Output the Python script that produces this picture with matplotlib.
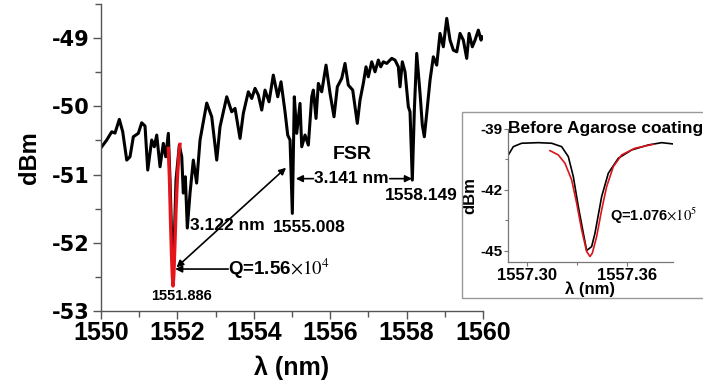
import numpy as np
import matplotlib
matplotlib.use('Agg')
import matplotlib.pyplot as plt
from matplotlib.patches import Rectangle
plt.rcParams['font.family'] = 'Liberation Sans'
plt.rcParams['mathtext.fontset'] = 'stix'
plt.rcParams['axes.unicode_minus'] = False

# main transmission spectrum
wl = [1550.018, 1550.149, 1550.280, 1550.366, 1550.479, 1550.568, 1550.673, 1550.759,
      1550.846, 1550.976, 1551.065, 1551.152, 1551.223, 1551.327, 1551.395, 1551.458,
      1551.545, 1551.631, 1551.694, 1551.762, 1551.806, 1551.885, 1551.963, 1552.050,
      1552.113, 1552.154, 1552.207, 1552.259, 1552.330, 1552.416, 1552.503, 1552.592,
      1552.767, 1552.898, 1553.029, 1553.115, 1553.291, 1553.421, 1553.508, 1553.639,
      1553.725, 1553.856, 1553.945, 1554.031, 1554.118, 1554.207, 1554.293, 1554.398,
      1554.510, 1554.626, 1554.712, 1554.817, 1554.887, 1554.948, 1555.008, 1555.060,
      1555.123, 1555.209, 1555.254, 1555.340, 1555.427, 1555.516, 1555.558, 1555.628,
      1555.689, 1555.777, 1555.890, 1555.995, 1556.099, 1556.186, 1556.301, 1556.387,
      1556.474, 1556.589, 1556.709, 1556.780, 1556.866, 1556.937, 1556.997, 1557.086,
      1557.173, 1557.259, 1557.322, 1557.390, 1557.479, 1557.610, 1557.696, 1557.783,
      1557.827, 1557.887, 1557.958, 1558.045, 1558.089, 1558.149, 1558.202, 1558.264,
      1558.351, 1558.411, 1558.463, 1558.526, 1558.613, 1558.699, 1558.788, 1558.874,
      1558.961, 1559.050, 1559.136, 1559.223, 1559.312, 1559.398, 1559.484, 1559.573,
      1559.634, 1559.720, 1559.791, 1559.877, 1559.948, 1559.982]
dbm = [-50.593, -50.494, -50.373, -50.392, -50.191, -50.373, -50.788, -50.739,
       -50.446, -50.396, -50.241, -50.289, -50.934, -50.494, -50.593, -50.421,
       -50.886, -50.543, -50.739, -50.396, -51.080, -52.580, -51.080, -50.568,
       -50.739, -51.271, -51.032, -51.784, -51.271, -50.788, -51.125, -50.494,
       -49.952, -50.153, -50.788, -50.300, -49.860, -50.080, -50.030, -50.470,
       -50.103, -49.787, -49.884, -49.737, -49.835, -50.055, -49.762, -49.933,
       -49.542, -49.860, -49.640, -50.080, -50.421, -50.494, -51.569, -49.860,
       -50.396, -49.957, -50.593, -50.421, -50.568, -49.860, -49.762, -50.177,
       -49.664, -49.787, -49.396, -49.810, -50.153, -49.714, -49.590, -49.371,
       -49.689, -49.762, -50.250, -49.908, -49.664, -49.421, -49.567, -49.347,
       -49.494, -49.322, -49.421, -49.347, -49.371, -49.297, -49.322, -49.421,
       -49.714, -49.347, -49.494, -50.007, -50.080, -51.081, -50.055, -49.224,
       -49.810, -50.275, -50.446, -50.103, -49.615, -49.274, -49.396, -48.931,
       -49.127, -48.711, -49.029, -49.176, -49.201, -48.931, -49.029, -49.297,
       -48.931, -49.127, -49.029, -48.883, -49.029, -48.981]

# fitted dip at 1551.886
fit_wl = [1551.762, 1551.793, 1551.819, 1551.846, 1551.866, 1551.885, 1551.906,
          1551.929, 1551.963, 1552.003, 1552.042, 1552.068]
fit_dbm = [-50.616, -51.081, -51.667, -52.179, -52.473, -52.634, -52.473,
           -52.106, -51.520, -51.007, -50.670, -50.557]

# inset: resonance before agarose coating
in_wl = [1557.2888, 1557.2918, 1557.2968, 1557.3068, 1557.3148, 1557.3208, 1557.3248,
         1557.3278, 1557.3308, 1557.3338, 1557.3358, 1557.3388, 1557.3408, 1557.3448,
         1557.3488, 1557.3548, 1557.3628, 1557.3728, 1557.3808, 1557.3878]
in_dbm = [-40.279, -39.871, -39.703, -39.674, -39.703, -39.871, -40.363,
          -41.346, -42.822, -44.130, -44.986, -44.790, -44.130, -42.330,
          -41.179, -40.441, -40.033, -39.787, -39.674, -39.738]
in_fit_wl = [1557.3138, 1557.3188, 1557.3228, 1557.3268, 1557.3298, 1557.3328,
             1557.3358, 1557.3378, 1557.3392, 1557.3418, 1557.3448, 1557.3478,
             1557.3518, 1557.3568, 1557.3648, 1557.3758]
in_fit_dbm = [-40.067, -40.279, -40.687, -41.509, -42.655, -43.968,
              -45.035, -45.281, -45.114, -44.298, -42.984, -41.838,
              -40.854, -40.279, -39.949, -39.753]

res = [1551.886, 1555.008, 1558.149]

fig = plt.figure(figsize=(7.03, 3.85), dpi=100)
ax = fig.add_axes([0.1437, 0.1922, 0.5434, 0.7974])
ax.plot(wl, dbm, color='black', lw=2.2, solid_joinstyle='round')
ax.plot(fit_wl, fit_dbm, color='#e8141c', lw=2.4)
ax.set_xlim(1550, 1560)
ax.set_ylim(-53, -48.5)
ax.set_xticks([1550, 1552, 1554, 1556, 1558, 1560])
ax.set_xticks(np.arange(1551, 1560, 2), minor=True)
ax.set_yticks([-53, -52, -51, -50, -49])
ax.set_yticks([-52.5, -51.5, -50.5, -49.5, -48.5], minor=True)
for s in ['top', 'right']:
    ax.spines[s].set_visible(False)
for s in ['left', 'bottom']:
    ax.spines[s].set_color('#555555')
    ax.spines[s].set_linewidth(1.0)
ax.tick_params(which='major', length=6, width=1, color='#555555')
ax.tick_params(which='minor', length=4, width=1, color='#555555')
ax.tick_params(axis='x', labelsize=18, pad=1)
ax.tick_params(axis='y', labelsize=15, pad=2)
for t in ax.get_xticklabels():
    t.set_fontweight('bold')
for t in ax.get_yticklabels():
    t.set_fontweight('bold')
    t.set_family('DejaVu Sans')
ax.set_xlabel('λ (nm)', fontsize=18, fontweight='bold', labelpad=8)
ax.set_ylabel('dBm', fontsize=17, fontweight='bold', labelpad=8)

# annotations
ax.text(1552.094, -52.78, '%.3f' % res[0], fontsize=10.5, fontweight='bold',
        ha='center', va='center')
ax.annotate('', xy=(1551.94, -52.385), xytext=(1553.33, -52.385),
            arrowprops=dict(arrowstyle='-|>', color='black', lw=1.2,
                            mutation_scale=10, shrinkA=0, shrinkB=0))
ax.text(1553.33, -52.385, r'Q=1.56$\times10^4$', fontsize=13.5, fontweight='bold',
        ha='left', va='center')
ax.annotate('', xy=(1551.976, -52.36), xytext=(1554.843, -50.90),
            arrowprops=dict(arrowstyle='<|-|>', color='black', lw=1.2,
                            mutation_scale=10, shrinkA=0, shrinkB=0))
ax.text(1552.33, -51.74, '3.122 nm', fontsize=12.5, fontweight='bold',
        ha='left', va='center')
ax.text(1554.50, -51.78, '%.3f' % res[1], fontsize=12.5, fontweight='bold',
        ha='left', va='center')
ax.text(1556.57, -50.71, 'FSR', fontsize=14, fontweight='bold',
        ha='center', va='center')
ax.annotate('', xy=(1555.10, -51.06), xytext=(1555.56, -51.06),
            arrowprops=dict(arrowstyle='-|>', color='black', lw=1.2,
                            mutation_scale=10, shrinkA=0, shrinkB=0))
ax.annotate('', xy=(1558.14, -51.06), xytext=(1557.56, -51.06),
            arrowprops=dict(arrowstyle='-|>', color='black', lw=1.2,
                            mutation_scale=10, shrinkA=0, shrinkB=0))
ax.text(1556.56, -51.06, '3.141 nm', fontsize=12.5, fontweight='bold',
        ha='center', va='center')
ax.text(1557.435, -51.30, '%.3f' % res[2], fontsize=12.5, fontweight='bold',
        ha='left', va='center')

# inset frame
fig.patches.append(Rectangle((0.657, 0.226), 0.40, 0.483, transform=fig.transFigure,
                             fill=False, edgecolor='#999999', lw=1.0))

axi = fig.add_axes([0.7226, 0.3195, 0.2347, 0.3455])
axi.plot(in_wl, in_dbm, color='black', lw=1.2)
axi.plot(in_fit_wl, in_fit_dbm, color='#d9141c', lw=1.2)
axi.set_xlim(1557.2886, 1557.3876)
axi.set_ylim(-45.55, -39)
axi.set_xticks([1557.30, 1557.36])
axi.set_xticklabels(['1557.30', '1557.36'])
axi.set_xticks([1557.33], minor=True)
axi.set_yticks([-45, -42, -39])
axi.set_yticks([-43.5, -40.5], minor=True)
for s in ['top', 'right']:
    axi.spines[s].set_visible(False)
for s in ['left', 'bottom']:
    axi.spines[s].set_color('#777777')
    axi.spines[s].set_linewidth(0.9)
axi.tick_params(which='major', length=3, width=0.8, color='#777777')
axi.tick_params(which='minor', length=2, width=0.8, color='#777777')
axi.tick_params(axis='x', labelsize=12, pad=1)
axi.tick_params(axis='y', labelsize=11, pad=1)
for t in axi.get_xticklabels() + axi.get_yticklabels():
    t.set_fontweight('bold')
axi.set_xlabel('λ (nm)', fontsize=12, fontweight='bold', labelpad=-1)
axi.set_ylabel('dBm', fontsize=12, fontweight='bold', labelpad=2)
axi.text(0.0, 1.0, 'Before Agarose coating', transform=axi.transAxes,
         fontsize=12.5, fontweight='bold', ha='left', va='center')
axi.text(1557.35, -43.3, r'Q=1.076$\times10^5$', fontsize=10.5, fontweight='bold',
         ha='left', va='center')

fig.savefig('out.png', dpi=100)
